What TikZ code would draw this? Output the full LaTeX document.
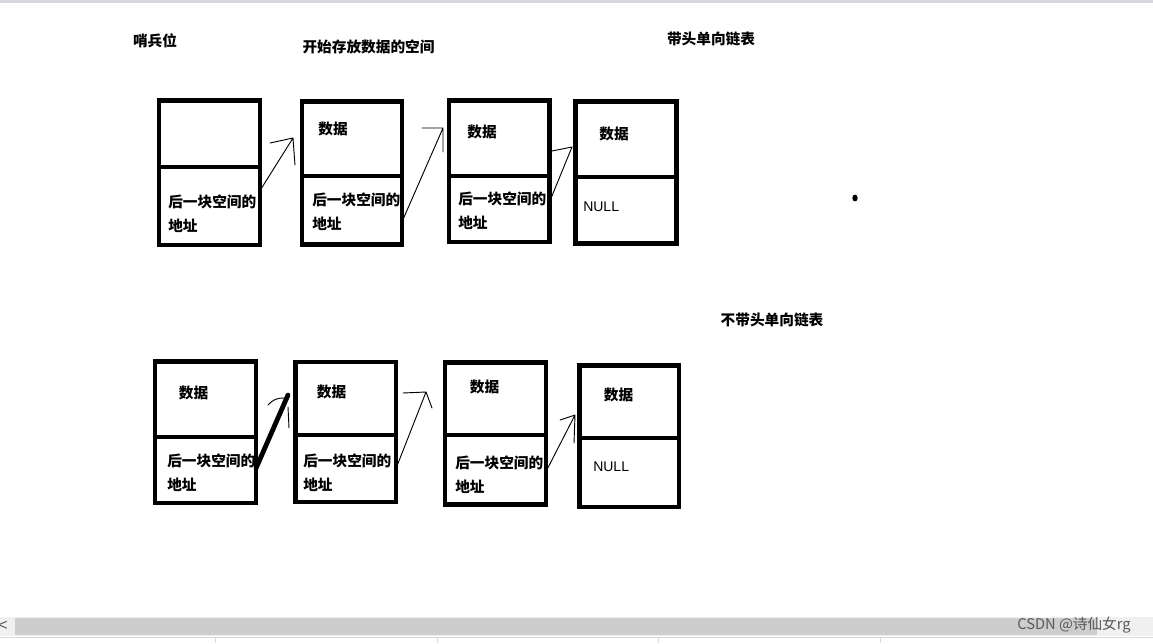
\documentclass[tikz,border=0pt]{standalone}
\usepackage{fontspec}
\setmainfont{Liberation Sans}
\newfontfamily\cjk{Noto Sans CJK SC}
\usetikzlibrary{fit,positioning}
\definecolor{barbg}{HTML}{F0F0F0}
\definecolor{barfg}{HTML}{CDCDCD}
\definecolor{edge}{HTML}{D6D9DD}

\begin{document}
\begin{tikzpicture}[x=0.75pt,y=-0.75pt,
  cell/.style={draw, line width=3.6pt, inner sep=0pt, outer sep=0pt},
  zh/.style={font=\cjk\bfseries\fontsize{11}{13}\selectfont, inner sep=0pt},
  addr/.style={zh, font=\cjk\bfseries\fontsize{11}{18}\selectfont, align=left, anchor=west},
  nul/.style={font=\fontsize{10.5}{12}\selectfont, inner sep=0pt, anchor=west},
  link/.style={line width=0.7pt, line cap=round, line join=round},
  heavy/.style={line width=3.6pt, line cap=round}]
\fill[white] (0,0) rectangle (1153,643);
\useasboundingbox (0,0) rectangle (1153,643);
\fill[edge] (0,0) rectangle (1153,2.5);

% titles
\node[zh] (sentinel) at (155,41) {哨兵位};
\node[zh] (datastart) at (368.5,47) {开始存放数据的空间};
\node[zh] (headed) at (711,38.5) {带头单向链表};
\node[zh] (headless) at (772,320) {不带头单向链表};

% with head
\node[cell, fit={(159,100.5) (260,167)}] (a1) {};
\node[cell, fit={(159,167) (260,245)}] (a2) {};
\node[cell, fit={(302,101.5) (402,176)}] (b1) {};
\node[cell, fit={(302,176) (402,244.5)}] (b2) {};
\node[cell, fit={(449,100.5) (549.5,176)}] (c1) {};
\node[cell, fit={(449,176) (549.5,242)}] (c2) {};
\node[cell, fit={(575.5,101.5) (676.5,177)}] (d1) {};
\node[cell, fit={(575.5,177) (676.5,243.5)}] (d2) {};

\node[addr] (a2t) at (168,214) {后一块空间的\\地址};
\node[zh] (b1t) at (333,129) {数据};
\node[addr] (b2t) at (312,212) {后一块空间的\\地址};
\node[zh] (c1t) at (482,132) {数据};
\node[addr] (c2t) at (458,210.5) {后一块空间的\\地址};
\node[zh] (d1t) at (614,134) {数据};
\node[nul] (d2t) at (583,207) {NULL};

\coordinate (pa) at (293,138);
\coordinate (pb) at (443,128);
\coordinate (pc) at (572,147);
\draw[link] (a2.17) -- (pa) ++(-23,5) -- (pa) -- ++(2,27);
\draw[link] (b2.-13) -- (pb) ++(-21,0) -- (pb) -- ++(0,24);
\draw[link] (c2.8) -- (pc) ++(-20,4) -- (pc);

\fill (855,198) ellipse [x radius=2pt, y radius=2.6pt];

% without head
\node[cell, fit={(155,361.5) (256,437)}] (e1) {};
\node[cell, fit={(155,437) (256,503)}] (e2) {};
\node[cell, fit={(295.5,362) (396,435)}] (f1) {};
\node[cell, fit={(295.5,435) (396,502)}] (f2) {};
\node[cell, fit={(445,362.5) (546,435)}] (g1) {};
\node[cell, fit={(445,435) (546,504.5)}] (g2) {};
\node[cell, fit={(579.5,365.5) (679,438)}] (h1) {};
\node[cell, fit={(579.5,438) (679,507)}] (h2) {};

\node[zh] (e1t) at (193.5,393) {数据};
\node[addr] (e2t) at (167,473) {后一块空间的\\地址};
\node[zh] (f1t) at (331.5,392) {数据};
\node[addr] (f2t) at (303,473) {后一块空间的\\地址};
\node[zh] (g1t) at (484.5,387) {数据};
\node[addr] (g2t) at (455,474.5) {后一块空间的\\地址};
\node[zh] (h1t) at (618.5,395) {数据};
\node[nul] (h2t) at (593,467) {NULL};

\coordinate (pe) at (288,395);
\coordinate (pf) at (426,392);
\coordinate (pg) at (575,415);
\draw[heavy] (e2.2) -- (pe);
\draw[link] (pe) ++(-20,10) to[bend left=25] ++(16,-7);
\draw[link] (pe) ++(0,12) -- ++(1,21);
\draw[link] (f2.0) -- (pf) ++(-23,1) -- (pf) -- ++(6,16);
\draw[link] (g2.-2) -- (pg) ++(-15,5) -- (pg) -- ++(-1,28);

% scroll bar
\fill[barbg] (0,617) rectangle (1153,636);
\fill[barfg] (15,618) rectangle (1097,635);
\draw[edge] (0,637) -- (1153,637);
\foreach \sx in {215,437,658,880} \draw[edge] (\sx,638) -- (\sx,643);
\node[font=\fontsize{12}{13}\selectfont, text=gray!70!black, inner sep=0pt] (lt) at (3,626) {<};
\node[font=\cjk\fontsize{11}{12}\selectfont, text=gray!70!black, inner sep=0pt] (mark) at (1074,625) {CSDN @诗仙女rg};
\end{tikzpicture}
\end{document}
